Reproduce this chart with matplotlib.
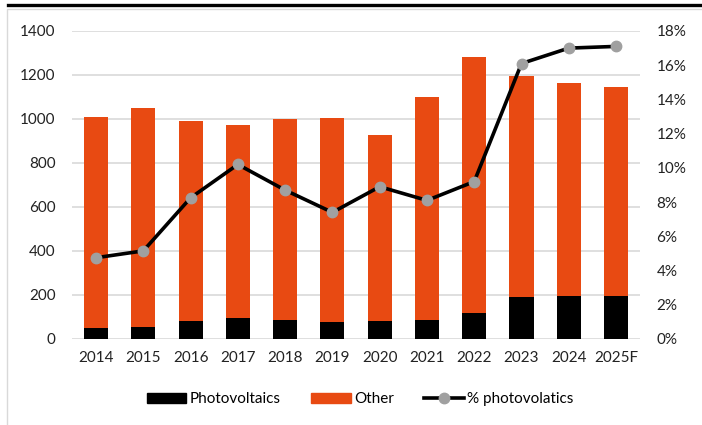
import matplotlib
matplotlib.use("Agg")
import matplotlib.pyplot as plt
from matplotlib.lines import Line2D
from matplotlib.patches import Rectangle
import numpy as np

years = ["2014", "2015", "2016", "2017", "2018", "2019", "2020", "2021", "2022", "2023", "2024", "2025F"]
totals = [1010, 1052, 991, 973, 1000, 1004, 927, 1100, 1282, 1196, 1164, 1147]
photovoltaics = [48, 55, 82, 96, 86, 76, 82, 86, 118, 192, 195, 195]
pct_pv = [4.75, 5.15, 8.25, 10.2, 8.7, 7.4, 8.9, 8.1, 9.2, 16.1, 17.0, 17.1]
other = [t - p for t, p in zip(totals, photovoltaics)]

ORANGE = "#E84A12"
GRID = "#D9D9D9"
MARK = "#A0A0A0"
FS = 11
plt.rcParams['font.family'] = ['Lato', 'DejaVu Sans']

fig = plt.figure(figsize=(7.02, 4.25), dpi=100)
ax = fig.add_axes([72.4/702, 1-339/425, (639.7-72.4)/702, (339-31)/425])
x = np.arange(len(years))
ax.bar(x, photovoltaics, width=0.51, color="black", label="Photovoltaics", zorder=2)
ax.bar(x, other, bottom=photovoltaics, width=0.51, color=ORANGE, label="Other", zorder=2)
ax.set_xlim(-0.5, len(years)-0.5)
ax.set_ylim(0, 1400)
ax.set_yticks(range(0, 1401, 200))
ax.set_xticks(x)
ax.set_xticklabels(years)
ax.yaxis.grid(True, color=GRID, linewidth=1.2, zorder=0)
ax.set_axisbelow(True)
for s in ax.spines.values():
    s.set_visible(False)
ax.tick_params(length=0, labelsize=FS, colors="#222222")
ax.tick_params(axis='x', pad=9)
ax.tick_params(axis='y', pad=12)

ax2 = ax.twinx()
ax2.plot(x, pct_pv, color="black", linewidth=2.6, marker="o", markersize=7.5,
         markerfacecolor=MARK, markeredgecolor=MARK, zorder=3, label="% photovolatics")
ax2.set_ylim(0, 18)
ax2.set_yticks(range(0, 19, 2))
ax2.set_yticklabels([f"{v}%" for v in range(0, 19, 2)])
for s in ax2.spines.values():
    s.set_visible(False)
ax2.tick_params(length=0, labelsize=FS, colors="#222222", pad=12)

handles = [Rectangle((0, 0), 1, 1, color="black"), Rectangle((0, 0), 1, 1, color=ORANGE),
           Line2D([], [], color="black", linewidth=2.6, marker="o", markersize=7.5,
                  markerfacecolor=MARK, markeredgecolor=MARK)]
fig.legend(handles, ["Photovoltaics", "Other", "% photovolatics"], loc="center",
           bbox_to_anchor=(360/702, 1-399/425), ncol=3, frameon=False, fontsize=FS,
           handlelength=2.6, handleheight=0.65, columnspacing=2.0, handletextpad=0.2)

# outer frame and top rule
fig.add_artist(Rectangle((7/702, -0.01), 1, 1-9/425+0.01, transform=fig.transFigure,
                         fill=False, edgecolor="#D9D9D9", linewidth=1))
fig.add_artist(Line2D([8/702, 1], [1-4.5/425, 1-4.5/425], transform=fig.transFigure,
                      color="black", linewidth=2.4))

fig.savefig("out.png", dpi=100)
